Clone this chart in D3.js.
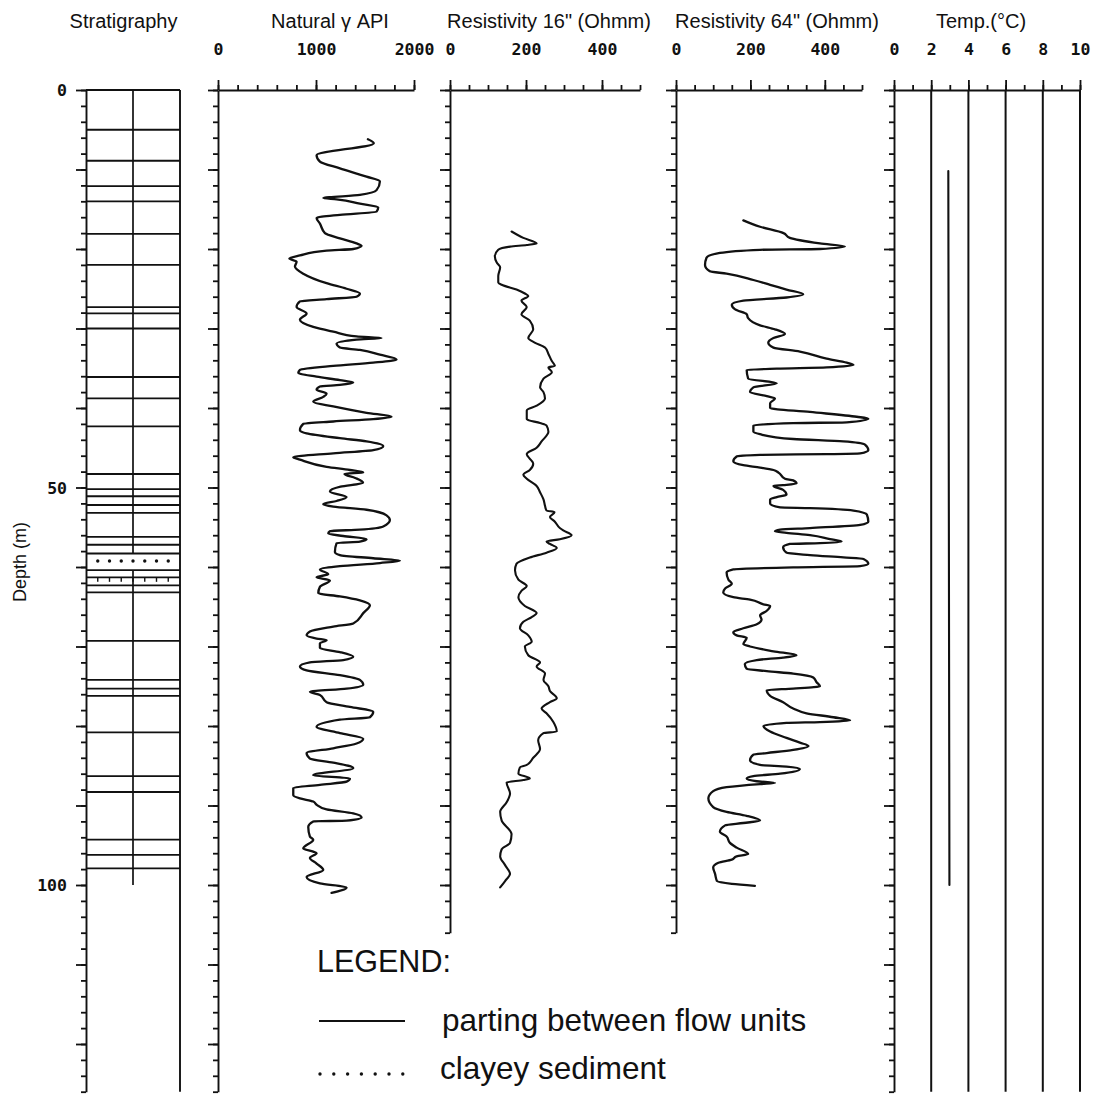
<!DOCTYPE html>
<html><head><meta charset="utf-8">
<script src="https://cdn.jsdelivr.net/npm/d3@7/dist/d3.min.js"></script>
<style>body{margin:0;background:#fff}svg{display:block}</style>
</head><body>
<svg id="chart" width="1093" height="1099"></svg>
<script>
// ---------------- data ----------------
const trackTitles = ["Stratigraphy", "Natural \u03B3 API", "Resistivity 16\" (Ohmm)", "Resistivity 64\" (Ohmm)", "Temp.(\u00B0C)"];
const depthLabels = [0, 50, 100];
const gammaTickLabels = [0, 1000, 2000];
const resTickLabels = [0, 200, 400];
const tempTickLabels = [0, 2, 4, 6, 8, 10];

const partingDepths = [5.0, 8.9, 12.1, 14.0, 18.1, 22.0, 27.3, 28.1, 30.0, 36.1, 38.8, 42.3, 48.3,
  50.2, 51.1, 52.2, 53.2, 56.2, 57.2, 58.3, 60.4, 61.3, 62.3, 63.2, 69.3, 74.2, 75.3, 76.2, 80.8,
  86.3, 88.3, 94.3, 96.2, 97.9];
const clayeyDepths = [59.25];
const tickedDepths = [61.3];

const gammaDepth = [6.2,6.7,8.2,9.0,9.85,10.9,11.5,12.6,13.2,13.6,13.75,14.3,14.76,15.3,15.7,16.1,16.8,18.0,18.66,19.3,19.6,20.0,20.2,20.8,21.2,21.6,22.2,23.1,24.3,25.0,25.6,26.0,26.3,26.6,27.3,28.1,28.9,29.8,30.4,31.0,31.2,31.4,31.9,32.4,32.7,33.3,33.9,34.3,34.7,35.2,35.6,36.06,36.5,36.8,37.1,37.3,37.7,38.2,38.6,39.2,39.8,40.6,41.1,41.4,41.7,42.0,42.8,43.2,43.8,44.2,44.8,45.3,45.7,46.2,46.5,47.4,47.8,48.1,48.3,48.8,49.4,49.9,50.5,51.2,51.7,52.1,52.4,52.8,53.5,54.1,54.9,55.3,55.5,55.8,56.1,56.5,56.8,57.0,58.1,58.5,58.9,59.2,59.5,59.9,60.3,60.9,61.3,61.7,62.5,63.3,63.7,64.2,64.8,65.8,67.1,67.5,68.1,68.6,69.0,69.2,69.6,70.2,70.7,71.3,71.7,72.0,72.5,73.0,73.6,74.2,74.8,75.3,75.7,76.1,77.0,77.6,78.2,78.9,79.2,80.1,80.9,81.6,82.2,82.8,83.4,84.1,84.6,85.3,86.2,86.6,87.0,87.4,87.8,88.7,89.1,89.5,89.9,90.5,91.0,91.5,91.9,92.0,92.7,93.9,94.3,95.4,95.8,96.0,96.6,97.3,98.1,99.0,99.8,100.3,101.0];
const gammaApi = [1530,1590,1006,1040,1244,1516,1652,1618,1448,1074,1210,1448,1635,1618,1244,1006,1040,1091,1244,1414,1465,1380,1108,836,728,802,785,870,1108,1312,1448,1414,1108,836,802,904,836,972,1176,1414,1669,1414,1210,1244,1448,1652,1822,1584,1176,836,819,1006,1244,1380,1244,1040,1006,1108,1074,972,1176,1516,1771,1584,1176,870,836,904,1244,1516,1686,1584,1176,768,836,1108,1346,1482,1290,1400,1480,1250,1142,1312,1210,1074,1176,1516,1720,1754,1686,1448,1142,1125,1278,1516,1448,1210,1193,1244,1584,1856,1652,1244,1040,1125,1006,1142,1040,1023,1244,1448,1550,1482,1380,1176,938,904,1006,1108,1040,1040,1244,1380,1278,938,836,904,1244,1448,1482,1312,938,1040,1108,1346,1584,1550,1244,1006,1244,1482,1414,1176,904,938,1176,1380,972,1346,1312,1040,768,768,836,972,1006,1108,1380,1465,1312,972,921,938,972,870,972,1006,938,1006,1074,904,1040,1312,1159];

const res16Depth = [17.8,18.6,19.3,19.5,19.7,20.1,20.9,21.7,22.3,23.4,24.2,24.5,25.1,25.6,25.9,26.5,27.3,28.2,29.0,30.1,31.2,31.8,32.4,33.2,34.1,34.7,34.9,35.5,36.3,37.4,38.0,38.8,39.7,40.3,41.4,41.9,42.2,43.0,44.2,45.0,45.8,47.0,47.8,48.4,48.9,49.8,50.6,51.5,52.3,52.9,53.1,53.7,54.3,55.1,55.4,56.0,56.5,56.8,57.1,57.6,58.2,58.8,59.6,60.4,61.6,62.4,63.0,63.8,64.9,65.8,66.3,66.9,67.7,68.6,69.4,70.0,71.1,72.0,72.5,73.4,74.2,75.0,75.6,76.5,77.0,77.8,78.4,79.5,80.7,80.9,81.8,82.9,84.0,84.9,85.2,86.0,86.6,86.8,87.1,88.5,89.6,90.8,91.9,93.6,94.7,95.5,96.4,97.5,98.6,99.5,100.3];
const res16Ohmm = [162,193,228,202,158,127,118,123,132,127,127,136,175,197,206,188,202,188,210,219,206,224,250,259,268,276,259,268,246,237,246,250,228,202,202,237,254,259,241,228,202,219,210,193,202,228,237,246,250,254,275,263,276,289,298,320,289,254,263,281,254,210,175,171,180,202,188,180,197,228,215,193,184,206,215,197,206,237,228,250,246,259,263,281,263,241,254,272,281,246,232,237,219,202,184,180,210,193,149,158,149,132,136,162,158,136,132,145,158,145,132];

const res64Depth = [16.4,17.2,18.0,18.6,19.3,19.7,20.0,20.1,20.5,21.1,22.0,22.8,23.1,23.9,24.5,25.1,25.7,26.1,26.5,27.0,27.6,28.2,28.7,29.6,30.1,30.7,31.2,31.8,32.4,32.9,33.8,34.3,34.6,34.9,35.05,35.2,36.3,36.9,37.4,38.0,38.5,38.8,39.4,40.0,40.5,41.1,41.35,41.8,41.9,42.2,43.0,43.3,43.9,44.2,44.6,45.3,45.7,45.8,45.9,46.1,46.7,47.2,47.5,47.8,48.1,48.9,49.1,49.5,49.7,49.8,50.3,50.9,51.2,51.5,52.0,52.5,52.6,52.9,53.4,54.3,54.7,55.1,55.3,55.5,55.7,56.0,56.5,56.8,57.0,57.1,57.5,58.2,58.5,58.8,59.0,59.6,59.9,60.05,60.3,60.7,61.6,62.1,62.7,63.2,63.8,64.1,64.7,64.9,65.5,66.1,66.6,67.2,67.7,68.2,68.6,68.9,69.7,70.0,70.6,71.1,71.4,71.7,72.2,72.8,73.1,73.4,73.9,74.5,75.0,75.3,75.5,76.2,77.0,77.8,78.4,78.9,79.3,79.5,79.6,80.0,80.7,81.5,82.1,82.5,83.0,83.4,83.6,84.3,84.9,85.1,85.4,86.0,86.3,86.6,86.95,87.17,87.3,87.7,88.2,89.1,90.2,90.8,91.3,91.9,92.2,92.5,93.3,93.9,94.7,95.3,96.1,96.4,96.8,97.2,97.8,98.6,99.5,99.85,100.1];
const res64Ohmm = [181,226,289,306,387,454,387,226,118,82,78,91,136,208,253,297,342,297,181,150,159,190,194,226,266,293,262,248,262,333,405,459,477,405,271,190,194,271,208,199,244,266,253,253,360,486,517,459,315,208,208,226,315,450,508,517,495,405,226,163,154,181,226,262,275,293,315,324,288,262,288,297,271,253,253,280,360,477,513,517,495,360,280,266,297,360,414,445,387,306,288,297,360,450,504,517,495,315,154,136,141,150,132,127,154,199,235,253,244,226,230,217,181,154,163,190,181,199,262,324,288,217,185,190,244,315,369,378,387,315,244,253,288,315,351,423,468,387,297,235,253,297,333,356,315,244,208,199,226,297,333,280,208,190,217,266,226,136,100,87,100,136,190,226,181,132,118,136,145,163,194,163,150,114,100,105,110,150,212];

const tempDepth = [10.2, 100];
const tempC = [2.92, 2.98];

// ---------------- layout ----------------
const svg = d3.select("#chart");
svg.append("rect").attr("width", 1093).attr("height", 1099).attr("fill", "#fff");
const INK = "#111";
const y = d3.scaleLinear().domain([0, 126]).range([90, 90 + 126 * 7.95]);

const xGamma = d3.scaleLinear().domain([0, 2000]).range([218, 414]);
const xR16 = d3.scaleLinear().domain([0, 500]).range([450, 640]);
const xR64 = d3.scaleLinear().domain([0, 500]).range([676, 862]);
const xTemp = d3.scaleLinear().domain([0, 10]).range([894, 1080]);
const xStrat = d3.scaleLinear().domain([0, 1]).range([86, 180]);

function styleAxis(g, w) {
  g.selectAll("path.domain").attr("stroke", INK).attr("stroke-width", w || 1.9);
  g.selectAll(".tick line").attr("stroke", INK).attr("stroke-width", 1.8);
}

function depthAxis(x, maxD) {
  const yy = y.copy().domain([0, maxD]).range([y(0), y(maxD)]);
  const g1 = svg.append("g").attr("transform", `translate(${x},0)`)
    .call(d3.axisLeft(yy).tickValues(d3.range(0, maxD + 0.01, 2)).tickSize(5).tickFormat("").tickSizeOuter(0));
  styleAxis(g1);
  const g2 = svg.append("g").attr("transform", `translate(${x},0)`)
    .call(d3.axisLeft(yy).tickValues(d3.range(0, maxD + 0.01, 10)).tickSize(10).tickFormat("").tickSizeOuter(0));
  g2.select("path.domain").remove();
  styleAxis(g2);
}

const labelFont = "'DejaVu Sans Mono', monospace";
function topAxis(xs, minor, major, labels) {
  const g1 = svg.append("g").attr("transform", `translate(0,${y(0)})`)
    .call(d3.axisTop(xs).tickValues(minor).tickSize(5).tickFormat("").tickSizeOuter(0));
  styleAxis(g1);
  const g2 = svg.append("g").attr("transform", `translate(0,${y(0)})`)
    .call(d3.axisTop(xs).tickValues(major).tickSize(10).tickPadding(25).tickFormat(d => labels.includes(d) ? d : "").tickSizeOuter(0));
  g2.select("path.domain").remove();
  styleAxis(g2);
  g2.selectAll("text").attr("font-family", labelFont).attr("font-weight", "bold")
    .attr("font-size", 16.5).attr("fill", INK);
}

// ---- titles ----
const titleX = [123.5, 330, 549, 777, 981];
svg.append("g").selectAll("text").data(trackTitles).join("text")
  .attr("x", (d, i) => titleX[i]).attr("y", 28).attr("text-anchor", "middle")
  .attr("font-family", "'Liberation Sans', Arial, sans-serif").attr("font-size", 20)
  .attr("fill", INK).text(d => d);

// ---- stratigraphy column ----
depthAxis(xStrat(0), 126);
svg.append("line").attr("x1", xStrat(1)).attr("x2", xStrat(1)).attr("y1", y(0)).attr("y2", y(126))
  .attr("stroke", INK).attr("stroke-width", 1.9);
svg.append("line").attr("x1", xStrat(0)).attr("x2", xStrat(1)).attr("y1", y(0)).attr("y2", y(0))
  .attr("stroke", INK).attr("stroke-width", 1.9);
[[0, 58.3], [60.4, 100]].forEach(([a, b]) => {
  svg.append("line").attr("x1", xStrat(0.5)).attr("x2", xStrat(0.5)).attr("y1", y(a)).attr("y2", y(b))
    .attr("stroke", INK).attr("stroke-width", 1.7);
});
svg.append("g").selectAll("line").data(partingDepths).join("line")
  .attr("x1", xStrat(0)).attr("x2", xStrat(1)).attr("y1", d => y(d)).attr("y2", d => y(d))
  .attr("stroke", INK).attr("stroke-width", 1.8);
const dotFrac = d3.range(1, 8).map(k => k / 8);
clayeyDepths.forEach(dep => {
  svg.append("g").selectAll("circle").data(dotFrac).join("circle")
    .attr("cx", f => xStrat(f)).attr("cy", y(dep)).attr("r", 1.7).attr("fill", INK);
});
tickedDepths.forEach(dep => {
  svg.append("g").selectAll("line").data(dotFrac).join("line")
    .attr("x1", f => xStrat(f)).attr("x2", f => xStrat(f)).attr("y1", y(dep)).attr("y2", y(dep) + 4.5)
    .attr("stroke", INK).attr("stroke-width", 1.4);
});
svg.append("g").selectAll("text").data(depthLabels).join("text")
  .attr("x", 67).attr("y", d => y(d) + 6).attr("text-anchor", "end")
  .attr("font-family", labelFont).attr("font-weight", "bold").attr("font-size", 16.5)
  .attr("fill", INK).text(d => d);
svg.append("text").attr("transform", "translate(26,562) rotate(-90)").attr("text-anchor", "middle")
  .attr("font-family", "'Liberation Sans', Arial, sans-serif").attr("font-size", 18).attr("fill", INK)
  .text("Depth (m)");

// ---- track axes ----
depthAxis(xGamma(0), 126);
topAxis(xGamma, d3.range(0, 2001, 200), [0, 1000, 2000], gammaTickLabels);
depthAxis(xR16(0), 106);
topAxis(xR16, d3.range(0, 501, 50), [0, 200, 400], resTickLabels);
depthAxis(xR64(0), 106);
topAxis(xR64, d3.range(0, 501, 50), [0, 200, 400], resTickLabels);
depthAxis(xTemp(0), 126);
topAxis(xTemp, d3.range(0, 10.01, 1), [0, 2, 4, 6, 8, 10], tempTickLabels);
svg.append("g").selectAll("line").data([2, 4, 6, 8, 10]).join("line")
  .attr("x1", d => xTemp(d)).attr("x2", d => xTemp(d)).attr("y1", y(0)).attr("y2", y(126))
  .attr("stroke", INK).attr("stroke-width", 2);

// ---- curves ----
function curve(depths, vals, xs, w) {
  const pts = depths.map((d, i) => [xs(vals[i]), y(d)]);
  svg.append("path").attr("d", d3.line().curve(d3.curveMonotoneY)(pts))
    .attr("fill", "none").attr("stroke", INK).attr("stroke-width", w || 2.3)
    .attr("stroke-linejoin", "round").attr("stroke-linecap", "round");
}
curve(gammaDepth, gammaApi, xGamma);
curve(res16Depth, res16Ohmm, xR16, 2.1);
curve(res64Depth, res64Ohmm, xR64);
curve(tempDepth, tempC, xTemp, 2.1);

// ---- legend ----
const legFont = "'Liberation Sans', Arial, sans-serif";
svg.append("text").attr("x", 317).attr("y", 972).attr("font-family", legFont).attr("font-size", 30.5)
  .attr("fill", INK).text("LEGEND:");
svg.append("line").attr("x1", 319).attr("x2", 405).attr("y1", 1021).attr("y2", 1021)
  .attr("stroke", INK).attr("stroke-width", 2.2);
svg.append("text").attr("x", 442).attr("y", 1031).attr("font-family", legFont).attr("font-size", 31.5)
  .attr("fill", INK).text("parting between flow units");
svg.append("g").selectAll("circle").data(d3.range(0, 7)).join("circle")
  .attr("cx", k => 320 + k * 13.8).attr("cy", 1074).attr("r", 1.7).attr("fill", INK);
svg.append("text").attr("x", 440).attr("y", 1079).attr("font-family", legFont).attr("font-size", 31.5)
  .attr("fill", INK).text("clayey sediment");
</script>
</body></html>
